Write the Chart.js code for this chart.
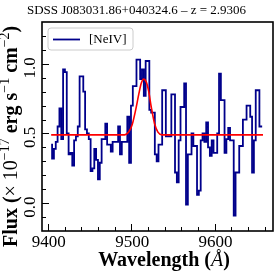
<!DOCTYPE html>
<html>
<head>
<meta charset="utf-8">
<script src="https://cdn.jsdelivr.net/npm/chart.js@4"></script>
<style>
  html, body { margin: 0; padding: 0; background: #fff; }
</style>
</head>
<body>
<canvas id="spec" width="277" height="277"></canvas>
<script>
// spectrum bins (Angstrom) and flux (1e-17 erg/s/cm2)
const wave = [
  9404.0, 9406.2, 9408.4, 9410.6, 9412.8, 9415.0, 9417.2, 9419.4, 9421.6, 9423.8,
  9426.0, 9428.2, 9430.4, 9432.6, 9434.8, 9437.0, 9439.2, 9441.4, 9443.6, 9445.8,
  9448.0, 9450.2, 9452.4, 9454.6, 9456.8, 9459.0, 9461.2, 9463.4, 9465.6, 9467.8,
  9470.0, 9472.2, 9474.4, 9476.6, 9478.8, 9481.0, 9483.2, 9485.4, 9487.6, 9489.8,
  9492.0, 9494.2, 9496.4, 9498.6, 9500.8, 9503.0, 9505.2, 9507.4, 9509.6, 9511.8,
  9514.0, 9516.2, 9518.4, 9520.6, 9522.8, 9525.0, 9527.2, 9529.4, 9531.6, 9533.8,
  9536.0, 9538.2, 9540.4, 9542.6, 9544.8, 9547.0, 9549.2, 9551.4, 9553.6, 9555.8,
  9558.0, 9560.2, 9562.4, 9564.6, 9566.8, 9569.0, 9571.2, 9573.4, 9575.6, 9577.8,
  9580.0, 9582.2, 9584.4, 9586.6, 9588.8, 9591.0, 9593.2, 9595.4, 9597.6, 9599.8,
  9602.0, 9604.2, 9606.4, 9608.6, 9610.8, 9613.0, 9615.2, 9617.4, 9619.6, 9621.8,
  9624.0, 9626.2, 9628.4, 9630.6, 9632.8, 9635.0, 9637.2, 9639.4, 9641.6, 9643.8,
  9646.0, 9648.2, 9650.4, 9652.6, 9654.8, 9657.0
];
const flux = [
  0.42, 0.32, 0.39, 0.44, 0.55, 0.68, 0.46, 0.96, 0.94, 0.50,
  0.35, 0.36, 0.27, 0.45, 0.48, 0.55, 0.91, 0.91, 0.80, 0.53,
  0.50, 0.46, 0.23, 0.25, 0.39, 0.31, 0.17, 0.29, 0.46, 0.46,
  0.57, 0.42, 0.42, 0.37, 0.44, 0.44, 0.44, 0.55, 0.35, 0.44,
  0.44, 0.44, 0.62, 0.29, 0.70, 0.84, 0.84, 1.03, 1.03, 0.89,
  0.96, 0.77, 1.02, 1.02, 0.67, 0.65, 0.65, 0.35, 0.30, 0.42,
  0.42, 0.81, 0.81, 0.48, 0.48, 0.48, 0.78, 0.78, 0.22, 0.15,
  0.45, 0.69, 0.69, 0.86, -0.01, 0.35, 0.35, 0.50, 0.41, 0.41,
  0.06, 0.09, 0.45, 0.50, 0.44, 0.58, 0.40, 0.34, 0.45, 0.36,
  0.36, 0.50, 0.93, 0.74, 0.74, 0.36, 0.46, 0.54, 0.45, 0.45,
  -0.09, 0.22, 0.22, 0.41, 0.41, 0.60, 0.60, 0.70, 0.70, 0.62,
  0.22, 0.45, 0.81, 0.81, 0.55, 0.55
];

// gaussian fit
const fitWave = [9404, 9480, 9492, 9497, 9501, 9505, 9509, 9512, 9515, 9518, 9521, 9524, 9528, 9532, 9537, 9545, 9658];
const fitFlux = [0.49, 0.49, 0.49, 0.51, 0.56, 0.66, 0.78, 0.86, 0.89, 0.87, 0.80, 0.69, 0.57, 0.51, 0.49, 0.49, 0.49];

const xTicks = [9400, 9500, 9600];
const yTicks = [0.0, 0.5, 1.0];
const xMinor = [9400, 9420, 9440, 9460, 9480, 9500, 9520, 9540, 9560, 9580, 9600, 9620, 9640, 9660];
const yMinor = [-0.1, 0.0, 0.1, 0.2, 0.3, 0.4, 0.5, 0.6, 0.7, 0.8, 0.9, 1.0, 1.1, 1.2];

const serif = "'Liberation Serif', 'Times New Roman', serif";

// matplotlib-ish frame, inward ticks, tick labels, axis titles, legend
const decor = {
  id: 'decor',
  afterDraw(chart) {
    const { ctx, chartArea: a, scales: { x, y } } = chart;
    ctx.save();
    ctx.strokeStyle = '#000';
    ctx.fillStyle = '#000';

    ctx.lineWidth = 1;
    xMinor.forEach((v) => {
      const px = Math.round(x.getPixelForValue(v)) + 0.5;
      const len = xTicks.includes(v) ? 7 : 4;
      ctx.beginPath();
      ctx.moveTo(px, a.bottom);
      ctx.lineTo(px, a.bottom - len);
      ctx.stroke();
    });
    yMinor.forEach((v) => {
      const py = Math.round(y.getPixelForValue(v)) + 0.5;
      const len = yTicks.some((t) => Math.abs(t - v) < 1e-6) ? 7 : 4;
      ctx.beginPath();
      ctx.moveTo(a.left, py);
      ctx.lineTo(a.left + len, py);
      ctx.stroke();
    });

    ctx.lineWidth = 1.6;
    ctx.strokeRect(a.left, a.top, a.right - a.left, a.bottom - a.top);

    // tick labels
    ctx.font = '17px ' + serif;
    ctx.textAlign = 'center';
    ctx.textBaseline = 'alphabetic';
    xTicks.forEach((v) => {
      ctx.fillText(String(v), x.getPixelForValue(v) + 1, 247);
    });
    ctx.textBaseline = 'middle';
    yTicks.forEach((v) => {
      ctx.save();
      ctx.translate(31, y.getPixelForValue(v) + 4);
      ctx.rotate(-Math.PI / 2);
      ctx.fillText(v.toFixed(1), 0, 0);
      ctx.restore();
    });

    // x title
    const parts = [
      ['Wavelength (', 'bold 20px ' + serif],
      ['\u00c5', 'italic 20px ' + serif],
      [')', 'bold 20px ' + serif],
    ];
    let total = 0;
    parts.forEach((p) => { ctx.font = p[1]; total += ctx.measureText(p[0]).width; });
    let cx = 164 - total / 2;
    ctx.textAlign = 'left';
    ctx.textBaseline = 'alphabetic';
    parts.forEach((p) => {
      ctx.font = p[1];
      ctx.fillText(p[0], cx, 266);
      cx += ctx.measureText(p[0]).width;
    });

    // y title with superscripts
    const yParts = [
      ['Flux (', 'bold 20px ' + serif, 0],
      ['\u00d7 10', '20px ' + serif, 0],
      ['\u221217', '14px ' + serif, -8],
      [' erg s', 'bold 20px ' + serif, 0],
      ['\u22121', '14px ' + serif, -8],
      [' cm', 'bold 20px ' + serif, 0],
      ['\u22122', '14px ' + serif, -8],
      [')', 'bold 20px ' + serif, 0],
    ];
    ctx.save();
    ctx.translate(16.5, 247);
    ctx.rotate(-Math.PI / 2);
    let tx = 0;
    yParts.forEach((p) => {
      ctx.font = p[1];
      ctx.fillText(p[0], tx, p[2]);
      tx += ctx.measureText(p[0]).width;
    });
    ctx.restore();

    // legend box
    const lx = 48, ly = 28, lw = 85, lh = 22, r = 3;
    ctx.beginPath();
    ctx.moveTo(lx + r, ly);
    ctx.arcTo(lx + lw, ly, lx + lw, ly + lh, r);
    ctx.arcTo(lx + lw, ly + lh, lx, ly + lh, r);
    ctx.arcTo(lx, ly + lh, lx, ly, r);
    ctx.arcTo(lx, ly, lx + lw, ly, r);
    ctx.closePath();
    ctx.fillStyle = 'rgba(255,255,255,0.8)';
    ctx.fill();
    ctx.strokeStyle = '#cccccc';
    ctx.lineWidth = 1;
    ctx.stroke();
    ctx.strokeStyle = '#00008b';
    ctx.lineWidth = 1.8;
    ctx.beginPath();
    ctx.moveTo(53, 39.5);
    ctx.lineTo(80, 39.5);
    ctx.stroke();
    ctx.fillStyle = '#000';
    ctx.font = '13px ' + serif;
    ctx.textBaseline = 'middle';
    ctx.fillText(chart.data.datasets[0].label, 89, 39.5);

    ctx.restore();
  },
};

new Chart(document.getElementById('spec'), {
  type: 'line',
  plugins: [decor],
  data: {
    datasets: [
      {
        label: '[NeIV]',
        data: wave.map((w, i) => ({ x: w, y: flux[i] })),
        borderColor: '#00008b',
        borderWidth: 1.8,
        stepped: 'middle',
        pointRadius: 0,
        fill: false,
        order: 1,
      },
      {
        label: 'fit',
        data: fitWave.map((w, i) => ({ x: w, y: fitFlux[i] })),
        borderColor: '#ff0000',
        borderWidth: 1.6,
        pointRadius: 0,
        cubicInterpolationMode: 'monotone',
        fill: false,
        order: 0,
      },
    ],
  },
  options: {
    responsive: false,
    animation: false,
    devicePixelRatio: 1,
    layout: { padding: { left: 0, right: 4, top: 0, bottom: 0 } },
    plugins: {
      legend: { display: false },
      tooltip: { enabled: false },
      title: {
        display: true,
        text: 'SDSS J083031.86+040324.6 \u2013 z = 2.9306',
        color: '#000',
        font: { family: serif, size: 13, weight: 'normal' },
        padding: { top: 3, bottom: 3.4 },
      },
    },
    scales: {
      x: {
        type: 'linear',
        min: 9393,
        max: 9670,
        afterBuildTicks: (s) => { s.ticks = xTicks.map((v) => ({ value: v })); },
        afterFit: (s) => { s.height = 46; },
        grid: { display: false },
        border: { display: false },
        ticks: { display: false },
      },
      y: {
        type: 'linear',
        min: -0.2,
        max: 1.3,
        afterBuildTicks: (s) => { s.ticks = yTicks.map((v) => ({ value: v })); },
        afterFit: (s) => { s.width = 42; },
        grid: { display: false },
        border: { display: false },
        ticks: { display: false },
      },
    },
  },
});
</script>
</body>
</html>
